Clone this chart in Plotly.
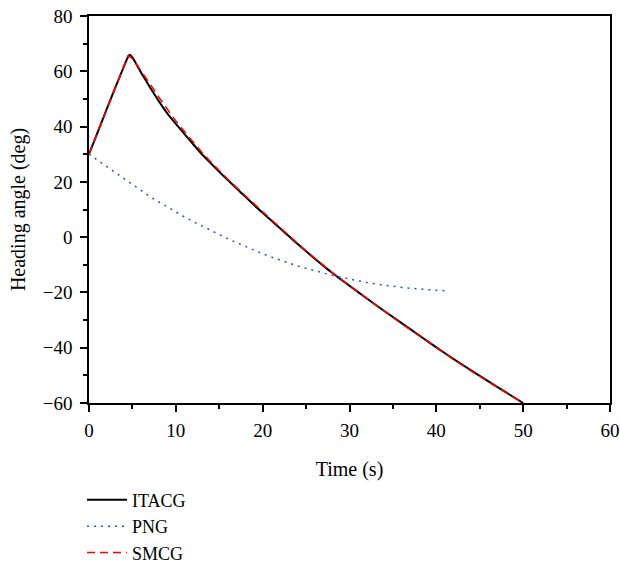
import plotly.graph_objects as go

# ITACG
t_itacg = [0, 1, 2, 3, 4, 4.5, 4.7, 5, 6, 7, 8, 9, 10, 11, 12, 13, 14, 15, 16, 17, 18, 19, 20,
           21, 22, 23, 24, 25, 26, 27, 28, 30, 32, 34, 36, 38, 40, 42, 44, 46, 48, 50]
y_itacg = [30, 38.0, 46.0, 53.9, 61.6, 65.3, 66.0, 65.0, 59.5, 54.3, 49.4, 44.9, 41.0, 37.3, 33.6,
           30.0, 26.8, 23.6, 20.6, 17.6, 14.7, 11.6, 8.8, 6.0, 3.2, 0.4, -2.4, -5.1, -7.8, -10.4,
           -12.9, -17.6, -22.2, -26.7, -31.1, -35.5, -39.9, -44.1, -48.2, -52.2, -56.1, -60.0]

# PNG
t_png = [0, 1, 2, 3, 4, 5, 6, 7, 8, 9, 10, 11, 12, 13, 14, 15, 16, 17, 18, 19, 20, 21, 22, 23,
         24, 25, 26, 27, 28, 29, 30, 31, 32, 33, 34, 35, 36, 37, 38, 39, 40, 41.2]
y_png = [30, 27.8, 25.6, 23.3, 21.0, 18.8, 16.7, 14.7, 12.8, 10.9, 9.1, 7.3, 5.6, 4.0, 2.4, 0.9,
         -0.6, -2.0, -3.4, -4.7, -6.0, -7.2, -8.3, -9.4, -10.4, -11.3, -12.2, -13.0, -13.8, -14.5,
         -15.2, -15.8, -16.4, -16.9, -17.4, -17.8, -18.2, -18.5, -18.8, -19.0, -19.2, -19.4]

# SMCG
t_smcg = [0, 1, 2, 3, 4, 4.5, 5, 6, 7, 8, 9, 10, 11, 12, 13, 14, 15, 16, 17, 18, 19, 20,
          21, 22, 23, 24, 25, 26, 27, 28, 30, 32, 34, 36, 38, 40, 42, 44, 46, 48, 50]
y_smcg = [30, 37.8, 45.7, 53.5, 61.2, 65.6, 64.6, 60.3, 55.6, 50.8, 46.2, 42.0, 38.2, 34.4,
          30.7, 27.3, 24.0, 20.9, 17.9, 14.9, 12.0, 9.2, 6.3, 3.4, 0.6, -2.2, -5.0, -7.6, -10.2,
          -12.8, -17.6, -22.3, -26.8, -31.3, -35.7, -40.1, -44.3, -48.4, -52.4, -56.2, -60.0]

FONT = "Liberation Serif"

fig = go.Figure()
fig.add_trace(go.Scatter(x=t_itacg, y=y_itacg, mode="lines", name="ITACG",
                         line=dict(color="black", width=2, shape="spline", smoothing=0.4)))
fig.add_trace(go.Scatter(x=t_png, y=y_png, mode="lines", name="PNG",
                         line=dict(color="#3050c8", width=1.5, dash="2px,5px")))
fig.add_trace(go.Scatter(x=t_smcg, y=y_smcg, mode="lines", name="SMCG",
                         line=dict(color="#ff0000", width=1.5, dash="8px,5px")))

axis_common = dict(showline=True, linecolor="black", linewidth=1.5, mirror=True,
                   ticks="outside", ticklen=7, tickwidth=1.5, tickcolor="black",
                   showgrid=False, zeroline=False, automargin=False,
                   tickfont=dict(family=FONT, size=19, color="black"))

fig.update_xaxes(range=[0, 60], dtick=10, tick0=0, ticklabelstandoff=2,
                 minor=dict(ticks="outside", ticklen=4, dtick=5, tickcolor="black", tickwidth=1.5),
                 title=dict(text="Time (s)", font=dict(family=FONT, size=20, color="black"), standoff=22),
                 **axis_common)
fig.update_yaxes(range=[-60, 80], dtick=20, tick0=0, ticklabelstandoff=4,
                 minor=dict(ticks="outside", ticklen=4, dtick=10, tickcolor="black", tickwidth=1.5),
                 title=dict(text="Heading angle (deg)", font=dict(family=FONT, size=20, color="black"), standoff=12),
                 **axis_common)

fig.update_layout(
    width=620, height=565,
    margin=dict(l=89, r=10, t=16, b=162, autoexpand=False),
    paper_bgcolor="white", plot_bgcolor="white",
    font=dict(family=FONT, size=20, color="black"),
    legend=dict(x=-0.0134, xanchor="left", y=-0.203, yanchor="top",
                font=dict(family=FONT, size=18, color="black"),
                bgcolor="rgba(0,0,0,0)", tracegroupgap=0, itemwidth=40),
    showlegend=True,
)

fig.write_html("out.html")
